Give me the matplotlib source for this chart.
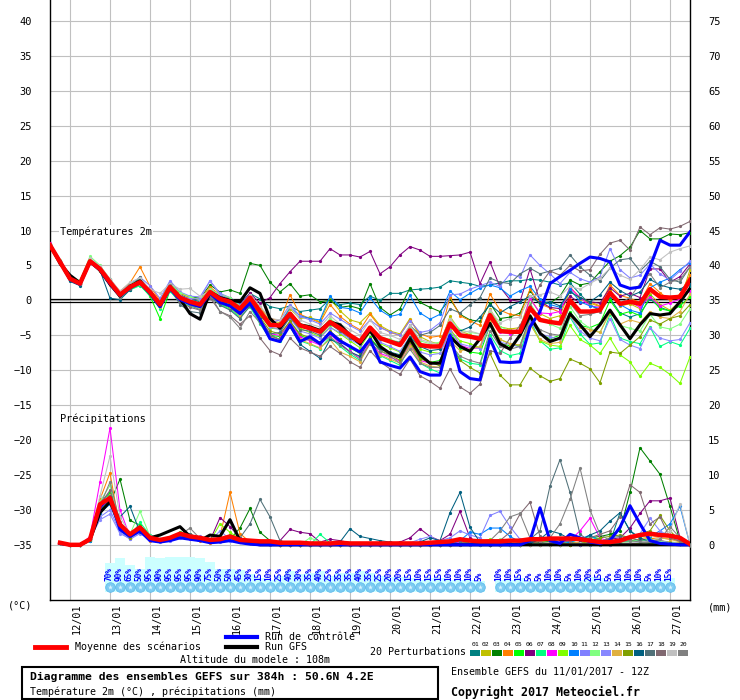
import numpy as np
import matplotlib
matplotlib.use("Agg")
from matplotlib import pyplot as plt
from matplotlib.lines import Line2D
from matplotlib.patches import Rectangle

plt.rcParams['font.family'] = ['DejaVu Sans Mono', 'DejaVu Sans']

# ---- data : 6-hourly steps from 11/01/2017 12Z (0 .. 384 h) ----
hours = np.arange(65) * 6
day_hours = [12 + 24 * k for k in range(16)]
day_labels = ['%02d/01' % d for d in range(12, 28)]

mean_t = [7.9, 5.5, 3.1, 2.4, 5.6, 4.5, 2.6, 0.8,
          1.9, 2.6, 1.2, -0.6, 1.9, 0.4, -0.2, -0.6,
          1.2, 0.2, -0.2, -1.2, 0.4, -1.6, -3.5, -3.6,
          -1.9, -3.6, -4.0, -4.5, -3.1, -4.0, -5.0, -5.9,
          -3.9, -5.4, -5.9, -6.4, -4.3, -6.4, -6.6, -6.6,
          -3.3, -5.0, -5.2, -5.5, -2.1, -4.4, -4.5, -4.5,
          -1.1, -2.8, -3.1, -3.3, 0.0, -1.6, -1.6, -1.4,
          1.1, -0.5, -0.2, -0.5, 1.6, 0.5, 0.4, 0.5,
          2.9]
gfs_t = [7.9, 5.3, 3.6, 2.5, 5.6, 4.3, 2.3, 0.6,
         2.0, 2.8, 1.0, -0.8, 2.0, 0.2, -1.9, -2.7,
         1.2, 0.4, 0.0, -0.2, 1.8, 1.0, -2.6, -4.0,
         -1.9, -3.5, -3.8, -4.3, -3.1, -3.5, -5.0, -6.2,
         -4.3, -6.6, -7.6, -8.1, -5.5, -7.8, -9.0, -9.0,
         -5.2, -6.6, -7.3, -5.5, -3.3, -6.2, -7.0, -5.0,
         -2.2, -4.7, -5.9, -5.4, -1.9, -3.5, -5.2, -3.5,
         -1.4, -3.5, -5.5, -3.5, -1.9, -2.1, -1.9, -0.2,
         1.7]
ctrl_t = [7.9, 5.6, 3.0, 2.3, 5.5, 4.4, 2.4, 0.7,
          1.8, 2.5, 1.0, -0.9, 1.7, 0.1, -0.5, -0.9,
          1.0, -0.3, -0.8, -1.9, -0.4, -2.8, -5.5, -5.9,
          -3.5, -5.9, -5.2, -6.2, -4.6, -5.8, -6.6, -7.4,
          -5.6, -8.8, -9.3, -9.7, -8.1, -10.2, -10.7, -10.7,
          -5.0, -10.2, -11.2, -11.4, -5.5, -8.8, -8.9, -8.8,
          -3.8, -1.6, 2.4, 3.4, 4.3, 5.3, 6.2, 6.0,
          5.5, 2.2, 1.7, 1.9, 4.8, 8.6, 7.9, 7.9,
          9.8]

p01_t = [8.0, 5.3, 2.9, 2.3, 5.5, 4.2, 2.8, 1.0, 2.2, 2.9, 1.5, -0.3, 2.3, 0.8, 0.2, -0.2,
         1.6, 0.6, 0.3, -0.5, 1.0, 0.2, -0.9, -1.2, -0.8, -1.6, -1.4, -1.2, 0.2, -0.6, -0.4, -0.6,
         0.6, 0.0, 1.0, 1.0, 1.5, 1.6, 1.7, 1.9, 2.8, 2.6, 2.4, 2.0, 2.2, 2.5, 2.8, 2.8,
         3.0, 2.9, 2.6, 2.2, 2.5, 0.9, -0.6, -1.5, 0.3, -1.8, -2.4, -1.9, 0.2, -1.0, -1.5, -0.8, 2.0]
p02_t = [7.8, 5.6, 3.3, 2.6, 5.9, 4.8, 2.9, 1.1, 2.1, 2.9, 1.3, -0.4, 2.2, 0.6, 0.0, -0.5,
         1.5, 0.4, 0.0, -1.0, 0.9, -1.2, -2.9, -3.2, -1.2, -2.6, -2.4, -3.1, 0.2, -1.5, -2.8, -3.2,
         -1.8, -3.6, -4.4, -4.8, -2.6, -5.2, -5.9, -6.3, -2.3, -4.4, -4.9, -5.6, -1.2, -3.8, -4.1, -3.9,
         0.3, -1.9, -2.6, -2.2, 1.4, 0.2, -0.4, -0.9, 1.5, -0.8, -0.5, -1.2, 0.9, -0.6, -1.4, -0.2, 4.4]
p03_t = [8.1, 5.7, 3.2, 2.5, 6.0, 4.6, 2.9, 1.0, 2.4, 3.0, 1.4, -0.2, 2.6, 1.0, 0.5, 0.3,
         2.2, 1.2, 1.5, 1.0, 5.3, 5.0, 2.6, 1.2, 2.4, 0.6, 0.8, -0.2, 0.0, -1.0, -0.8, -1.2,
         2.4, -1.0, -2.1, -1.2, 1.8, -0.3, -1.0, -1.6, 0.2, -2.0, -2.8, -3.0, -0.4, -2.6, -2.4, -1.8,
         1.4, -0.6, -0.4, 0.6, 2.9, 2.2, 2.5, 4.1, 5.6, 6.4, 7.6, 10.0, 8.8, 8.8, 9.5, 9.4, 9.7]
p04_t = [7.9, 5.4, 3.0, 2.4, 5.7, 4.7, 3.0, 1.3, 2.5, 4.8, 2.0, 0.0, 2.5, 1.0, 0.4, 0.1,
         1.9, 0.8, 0.3, -0.9, 0.6, -1.0, -2.6, -2.9, 0.8, -2.0, -2.6, -3.2, -0.6, -2.3, -3.4, -4.2,
         -2.0, -3.8, -4.6, -5.0, -2.8, -4.8, -5.3, -5.1, 0.5, -2.2, -2.9, -3.6, 0.9, -1.4, -2.0, -2.2,
         1.6, -0.5, -1.1, -1.7, 1.9, 0.4, -0.2, -0.8, 2.2, 0.7, 0.3, -0.3, 2.4, 1.1, 0.0, 0.9, 3.6]
p05_t = [7.8, 5.5, 3.2, 2.5, 5.8, 4.4, 2.4, 0.5, 1.6, 2.2, 0.6, -2.6, 1.4, 0.1, -0.7, -1.0,
         0.8, -0.5, -1.1, -2.2, -0.4, -2.8, -5.0, -5.2, -3.0, -5.0, -5.6, -6.0, -4.6, -5.6, -6.8, -7.6,
         -5.3, -7.0, -7.5, -8.2, -5.8, -8.2, -8.9, -8.6, -4.5, -6.8, -7.4, -7.6, -3.6, -6.2, -6.5, -6.4,
         -2.6, -4.8, -5.5, -5.0, -1.6, -3.6, -3.9, -3.3, 0.0, -2.0, -1.6, -2.2, 0.6, -1.2, -1.5, -0.8, 0.5]
p06_t = [8.0, 5.4, 3.0, 2.3, 5.5, 4.5, 2.7, 0.9, 2.0, 2.7, 1.3, -0.5, 2.0, 0.5, -0.1, -0.4,
         1.4, 0.5, 0.2, -0.6, 1.0, -0.4, 0.4, 2.4, 4.1, 5.6, 5.6, 5.6, 7.4, 6.5, 6.5, 6.2,
         7.0, 3.8, 4.8, 6.5, 7.7, 7.2, 6.3, 6.3, 6.4, 6.5, 6.9, 2.4, 5.5, 1.9, 0.1, -0.2,
         4.5, -0.2, -1.0, -1.2, 0.6, -0.4, -0.2, -0.4, 1.8, 0.6, 1.0, 0.4, 4.5, 4.5, 2.6, 3.4, 5.2]
p07_t = [7.7, 5.3, 2.9, 2.2, 5.4, 4.3, 2.3, 0.4, 1.5, 2.1, 0.7, -1.2, 1.3, -0.3, -0.8, -1.3,
         0.6, -0.6, -1.3, -2.4, -0.9, -3.4, -5.4, -5.8, -3.6, -5.8, -6.3, -6.9, -5.3, -6.6, -7.7, -8.6,
         -6.1, -7.9, -8.6, -9.3, -6.4, -9.0, -9.8, -10.4, -6.0, -8.4, -9.0, -9.2, -4.9, -7.2, -7.9, -7.6,
         -2.8, -5.8, -7.0, -6.8, -2.4, -4.8, -6.3, -6.1, -2.0, -5.4, -5.9, -6.2, -3.8, -6.6, -5.9, -6.4, -4.0]
p08_t = [8.2, 5.7, 3.3, 2.6, 5.7, 4.6, 2.5, 0.6, 1.8, 2.5, 1.0, -0.8, 1.7, 0.2, -0.4, -0.9,
         1.0, -0.2, -0.7, -1.8, -0.1, -2.6, -4.8, -5.0, -3.2, -5.2, -5.8, -6.4, -4.8, -6.2, -7.3, -8.2,
         -6.0, -7.6, -8.1, -8.7, -6.2, -8.6, -9.0, -8.8, -4.0, -6.4, -6.9, -6.8, -2.3, -4.6, -4.8, -4.4,
         0.3, -1.8, -1.9, -1.6, 1.8, 0.4, -0.8, -1.0, 1.0, -0.6, -0.2, -1.0, 0.5, -0.8, -0.4, 0.2, 1.4]
p09_t = [7.9, 5.6, 3.1, 2.5, 5.8, 4.7, 2.8, 1.0, 2.1, 2.8, 1.4, -0.5, 2.1, 0.4, -0.3, -0.7,
         1.1, 0.0, -0.4, -1.4, 0.2, -2.0, -4.0, -4.1, -2.4, -4.0, -4.6, -5.2, -3.8, -4.8, -5.8, -6.8,
         -4.6, -6.2, -6.8, -7.4, -5.2, -7.0, -7.4, -7.6, -4.2, -5.8, -6.2, -6.8, -3.6, -5.6, -6.2, -6.6,
         -3.3, -5.8, -6.4, -6.6, -3.6, -5.6, -6.4, -7.6, -5.4, -7.8, -8.8, -10.9, -9.0, -9.6, -10.6, -11.9, -8.1]
p10_t = [7.8, 5.4, 3.1, 2.4, 5.6, 4.4, 2.5, 0.6, 1.7, 2.4, 1.1, -0.7, 1.8, 0.2, -0.5, -1.0,
         0.9, -0.4, -0.9, -2.0, -0.2, -2.2, -3.6, -3.4, -1.0, -2.2, -2.6, -2.8, 0.6, -1.0, -1.2, -1.8,
         0.4, -1.4, -2.3, -2.0, 0.7, -1.8, -2.7, -2.0, 1.3, 0.1, 1.0, 1.8, 2.2, 1.8, 0.6, 1.4,
         2.0, 0.2, -0.6, -1.0, 1.6, -0.2, -0.8, -1.2, 1.0, -0.6, -1.4, -1.8, 1.8, 2.6, 3.2, 4.4, 5.4]
p11_t = [7.9, 5.5, 3.4, 2.7, 5.9, 4.8, 3.0, 1.2, 2.3, 3.3, 2.1, 0.3, 2.8, 1.2, 0.6, 0.5,
         2.8, 1.0, 0.4, -0.6, 0.8, -1.6, -3.2, -2.8, -0.6, -2.3, -2.8, -3.4, -1.8, -2.7, -3.6, -4.4,
         -2.8, -3.9, -4.5, -5.0, -2.9, -4.6, -4.3, -3.2, 0.8, 0.9, 1.6, 2.1, 2.6, 2.0, 3.8, 3.3,
         6.5, 5.0, 3.8, 2.4, 4.0, 3.1, 2.6, 3.4, 7.4, 4.4, 3.2, 3.6, 5.2, 3.8, 2.9, 4.2, 5.6]
p12_t = [8.0, 5.8, 3.5, 2.8, 6.3, 5.0, 3.0, 1.0, 2.3, 3.0, 1.5, -0.3, 2.4, 1.1, 0.5, 0.1,
         1.6, 0.8, 0.4, -0.8, 0.7, -1.4, -3.2, -3.4, -1.8, -3.4, -3.6, -4.4, -2.6, -3.8, -4.9, -5.8,
         -3.8, -5.2, -5.6, -6.0, -3.8, -5.8, -6.2, -6.0, -2.6, -4.2, -4.6, -4.8, -1.5, -3.8, -4.3, -4.4,
         -0.4, -2.6, -3.4, -4.0, -0.9, -3.0, -4.0, -4.6, -1.6, -3.6, -4.0, -4.4, -2.0, -3.8, -4.1, -3.4, -1.2]
p13_t = [7.9, 5.4, 2.9, 2.2, 5.4, 4.6, 2.6, 0.8, 2.2, 2.4, 1.2, -0.7, 1.9, 0.6, 0.2, 0.2,
         2.8, 0.8, 0.1, -1.0, 0.6, -1.8, -3.8, -4.2, -2.6, -4.4, -4.8, -5.4, -3.9, -4.6, -5.6, -6.4,
         -4.4, -6.0, -6.6, -7.3, -5.2, -7.4, -7.8, -7.6, -4.4, -6.2, -6.6, -6.9, -3.6, -6.0, -6.3, -6.7,
         -3.0, -4.8, -5.2, -5.6, -2.2, -4.4, -5.4, -5.8, -2.6, -5.6, -6.4, -6.9, -3.9, -5.4, -5.8, -5.6, -3.2]
p14_t = [7.8, 5.3, 3.0, 2.3, 5.4, 4.2, 2.2, 0.6, 1.7, 2.3, 0.9, -0.9, 1.6, 0.1, -0.6, -1.1,
         0.7, -0.4, -1.0, -2.2, -0.6, -3.0, -5.2, -5.6, -3.8, -5.6, -6.2, -6.8, -5.6, -7.4, -8.0, -8.8,
         -6.2, -7.8, -8.4, -9.0, -6.6, -8.8, -9.4, -9.6, -5.8, -7.2, -7.0, -6.6, -3.0, -5.6, -6.2, -6.4,
         -3.4, -5.6, -6.2, -6.0, -2.2, -3.8, -4.2, -4.6, -1.8, -3.4, -2.8, -3.2, -1.6, -2.4, -2.6, -1.6, 0.9]
p15_t = [7.9, 5.5, 3.1, 2.3, 5.6, 4.4, 2.5, 0.7, 1.8, 2.5, 1.1, -0.7, 1.8, 0.3, -0.3, -0.8,
         1.0, 0.0, -0.5, -1.6, 0.0, -2.4, -4.4, -4.8, -3.0, -4.8, -5.4, -6.0, -4.4, -5.6, -6.6, -7.6,
         -5.4, -7.2, -7.8, -8.6, -6.0, -8.4, -8.8, -9.4, -6.2, -8.6, -9.6, -10.4, -7.6, -10.7, -12.1, -12.1,
         -9.7, -10.8, -11.6, -11.2, -8.4, -9.0, -9.8, -11.8, -7.4, -7.6, -6.4, -5.2, -2.8, -3.4, -2.6, -2.2, -0.6]
p16_t = [7.8, 5.2, 2.7, 2.1, 5.3, 4.3, 0.3, 0.1, 1.5, 2.9, 1.4, -0.5, 1.8, 0.3, -0.4, -0.7,
         1.0, -0.2, -0.7, -1.7, -0.2, -2.6, -5.0, -5.6, -3.8, -6.3, -7.3, -8.3, -5.6, -6.2, -7.4, -8.0,
         -5.6, -7.0, -7.4, -7.8, -5.2, -6.6, -7.2, -7.0, -3.4, -4.4, -3.8, -2.4, -0.6, -1.8, -0.9, -0.2,
         0.6, -0.4, -0.2, -0.8, 1.2, 0.4, -0.2, 0.8, 2.6, 1.4, 0.6, 1.2, 3.0, 2.2, 1.8, 1.6, 2.4]
p17_t = [7.9, 5.6, 3.2, 2.6, 5.7, 4.3, 2.4, 0.4, 1.6, 3.4, 1.0, -0.8, 1.8, -0.6, -1.6, -1.8,
         0.6, -0.7, -1.4, -2.6, -0.8, -2.8, -4.8, -4.6, -2.4, -4.2, -4.4, -5.0, -3.4, -4.4, -5.4, -6.2,
         -4.2, -5.6, -5.8, -6.0, -3.6, -5.0, -4.6, -3.6, -1.2, -1.8, -0.6, 0.4, 3.2, 2.6, 2.4, 3.8,
         4.6, 3.8, 4.2, 4.6, 6.5, 4.8, 3.6, 2.8, 4.6, 5.8, 6.0, 4.2, 5.6, 4.8, 3.0, 2.6, 4.8]
p18_t = [8.0, 5.5, 3.0, 2.4, 5.5, 4.5, 2.6, 0.6, 2.0, 2.8, 1.3, -0.4, 1.5, -0.2, -1.0, -1.4,
         0.4, -1.6, -2.2, -3.4, -2.2, -5.4, -7.2, -7.8, -5.4, -6.8, -7.4, -8.0, -6.6, -7.6, -8.8, -9.6,
         -7.2, -8.8, -9.8, -10.6, -8.4, -10.8, -11.6, -12.6, -9.8, -12.4, -13.3, -12.0, -7.2, -7.6, -5.4, -3.6,
         -0.8, 2.2, 4.2, 3.6, 5.0, 4.2, 4.4, 6.6, 8.2, 8.6, 7.2, 10.5, 9.4, 10.4, 10.2, 10.6, 11.3]
p19_t = [7.9, 5.6, 3.3, 2.6, 6.0, 4.9, 3.1, 1.3, 2.6, 3.2, 1.6, 1.0, 2.4, 1.6, 1.7, 0.6,
         1.3, 0.1, -0.3, -1.2, 0.8, -0.8, -2.6, -2.8, -0.9, -2.8, -3.4, -3.8, -2.2, -3.4, -4.2, -5.0,
         -2.8, -4.6, -5.0, -5.6, -3.6, -5.6, -6.0, -6.4, -2.6, -4.6, -4.4, -4.8, -1.4, -3.2, -2.6, -2.4,
         0.6, 0.8, 1.2, 0.6, 2.0, 1.6, 2.4, 3.2, 4.6, 3.6, 3.0, 4.4, 6.2, 5.8, 6.9, 7.4, 7.8]
p20_t = [7.9, 5.6, 3.0, 2.4, 5.6, 4.4, 2.8, 0.5, 2.2, 2.6, 1.2, -0.8, 2.2, 0.4, -0.6, -1.4,
         0.8, -1.6, -2.4, -4.0, -1.6, -3.2, -5.0, -5.6, -3.6, -5.8, -5.6, -6.2, -5.2, -6.4, -7.4, -8.4,
         -6.2, -7.2, -8.0, -9.0, -7.0, -9.0, -9.6, -9.6, -6.2, -8.0, -8.6, -9.0, -4.4, -6.6, -7.0, -6.6,
         -2.4, -4.2, -4.8, -5.0, -0.4, -2.2, -2.0, -1.6, 1.0, -0.4, 0.4, 2.4, 3.8, 1.8, 2.6, 3.0, 4.8]

# precipitation (mm / 6 h), steps 1 .. 64
mean_p = [0.3, 0.0, 0.0, 0.8, 5.8, 6.7, 2.9, 1.5, 2.5, 1.0, 0.7, 1.0, 1.6, 1.2, 1.0, 0.7,
          0.8, 1.2, 0.7, 0.6, 0.5, 0.5, 0.3, 0.3, 0.3, 0.2, 0.2, 0.2, 0.3, 0.2, 0.2, 0.2,
          0.2, 0.2, 0.2, 0.2, 0.2, 0.3, 0.4, 0.5, 0.8, 0.6, 0.5, 0.5, 0.5, 0.6, 0.6, 0.8,
          0.8, 0.9, 0.9, 0.9, 0.8, 0.6, 0.4, 0.4, 0.6, 1.1, 1.4, 1.6, 1.4, 1.3, 1.0, 0.1]
gfs_p = [0.2, 0, 0, 0.7, 4.6, 6.2, 2.8, 1.4, 2.2, 1.0, 1.4, 2.0, 2.6, 1.2, 0.6, 1.4,
         1.2, 3.6, 0.6, 0.2, 0, 0, 0, 0, 0, 0, 0, 0, 0, 0, 0, 0,
         0, 0, 0, 0, 0, 0, 0, 0, 0, 0, 0, 0, 0, 0, 0, 0,
         0, 0, 0, 0, 0, 0, 0, 0, 0, 0, 0, 0, 0, 0, 0, 0]
ctrl_p = [0.2, 0, 0, 0.8, 5.4, 6.8, 2.2, 1.2, 2.0, 0.6, 0.4, 0.6, 1.0, 0.8, 0.6, 0.3,
          0.4, 0.6, 0.3, 0.1, 0, 0, 0, 0, 0, 0, 0, 0, 0, 0, 0, 0,
          0, 0, 0, 0, 0, 0, 0, 0, 0, 0, 0, 0, 0, 0, 0, 0.6,
          5.3, 0.6, 0.2, 1.5, 1.0, 0.4, 0.2, 0.6, 2.5, 5.6, 3.0, 0.6, 0.2, 0.1, 0, 0]

p01_p = [0.2, 0, 0, 1.0, 6.0, 7.5, 2.5, 1.2, 2.0, 0.8, 0.6, 0.9, 1.4, 1.0, 0.8, 0.5,
         0.6, 1.0, 0.5, 0.4, 0.3, 0.2, 0.2, 0.1, 0.1, 0, 0, 0, 0.2, 0.1, 0, 0,
         0, 0, 0, 0, 0, 0.1, 0.3, 0.4, 0.6, 0.3, 0.2, 0.1, 0, 0, 0.3, 0.5,
         0.4, 0.2, 0.6, 0.4, 0.2, 0.3, 0.1, 0.3, 4.6, 2.0, 0.8, 0.5, 0.3, 0.2, 0.4, 0]
p02_p = [0.3, 0, 0, 0.8, 5.0, 6.2, 3.0, 1.5, 2.4, 1.0, 0.5, 0.8, 1.2, 1.5, 0.9, 0.4,
         0.5, 0.8, 0.4, 0.3, 0.2, 0.1, 0, 0, 0, 0, 0, 0, 0, 0, 0, 0,
         0, 0, 0, 0, 0, 0, 0.2, 0.3, 0.2, 0.1, 0, 0, 0, 0, 0.1, 0.2,
         0.5, 0.3, 0.2, 0.1, 0, 0.2, 0.4, 0.3, 0.5, 0.8, 1.2, 1.0, 0.6, 0.4, 0.3, 0]
p03_p = [0.2, 0, 0, 0.6, 4.5, 6.0, 9.4, 3.5, 2.8, 1.2, 0.8, 1.0, 1.6, 1.2, 0.8, 0.6,
         1.0, 0.8, 2.4, 5.2, 1.8, 0.6, 0.2, 0.1, 0, 0, 0, 0, 0, 0, 0, 0,
         0, 0, 0, 0, 0, 0, 0.1, 0.2, 0.3, 0.1, 0, 0, 0, 0.2, 0, 0.1,
         0.3, 0.5, 0.8, 0.4, 0.3, 1.0, 1.2, 1.5, 2.0, 7.5, 13.9, 12.0, 10.1, 5.5, 0.5, 0]
p04_p = [0.2, 0, 0, 0.8, 6.5, 10.3, 2.2, 1.0, 2.0, 0.6, 0.5, 1.0, 1.5, 1.0, 0.6, 0.3,
         1.2, 7.5, 1.6, 0.4, 0.2, 0.1, 0, 0, 0, 0, 0, 0, 0, 0, 0, 0,
         0, 0, 0, 0, 0, 0, 0, 0.2, 0.4, 0.3, 0.2, 0, 0, 0, 0, 0.1,
         0.2, 0.1, 0, 0, 0, 0.3, 0.2, 0.4, 0.5, 0.6, 0.8, 0.9, 1.0, 0.8, 0.6, 0]
p05_p = [0.2, 0, 0, 0.8, 5.2, 7.4, 2.6, 1.4, 2.8, 1.0, 0.6, 0.8, 1.8, 1.2, 1.0, 0.6,
         0.8, 1.4, 0.8, 0.6, 0.4, 0.2, 0.1, 0, 0, 0, 0, 0, 0, 0, 0, 0,
         0, 0, 0, 0, 0, 0, 0.1, 0.2, 0.3, 0.2, 0.1, 0, 0, 0, 0, 0.1,
         0.1, 0.2, 0.1, 0, 0, 0, 0, 0.2, 0.4, 0.6, 0.4, 0.2, 0.3, 0.2, 0.1, 0]
p06_p = [0.2, 0, 0, 0.7, 5.5, 6.8, 2.4, 1.0, 2.2, 0.8, 0.7, 1.0, 1.4, 1.0, 0.8, 0.6,
         3.9, 2.6, 1.0, 0.4, 0.3, 0.2, 0.6, 2.2, 1.8, 1.6, 0.4, 0.8, 0.6, 0.3, 0.2, 0,
         0, 0.2, 0.4, 1.0, 2.3, 1.2, 0.6, 1.5, 4.8, 1.0, 0.2, 0, 0, 0, 0.1, 0.3,
         0.2, 0.1, 0, 0, 0, 0.2, 0.4, 0.8, 1.0, 2.4, 4.5, 6.3, 6.3, 6.7, 1.0, 0]
p07_p = [0.2, 0, 0, 0.9, 5.8, 7.0, 2.8, 1.2, 3.2, 1.4, 0.8, 1.0, 1.6, 1.0, 0.8, 0.5,
         0.8, 1.2, 0.6, 0.4, 0.3, 0.2, 0, 0, 0, 0, 1.5, 0.3, 0, 0, 0, 0,
         0, 0, 0, 0, 0, 0, 0, 0.1, 0.2, 0.1, 0, 0, 0, 0, 0, 0.1,
         0.2, 0.2, 0.3, 0.4, 0.8, 1.2, 0.6, 0.3, 0.4, 0.5, 0.6, 0.8, 0.4, 0.2, 0.1, 0]
p08_p = [0.3, 0, 0, 1.2, 9.0, 16.7, 5.0, 1.2, 2.0, 0.8, 0.6, 0.8, 1.2, 0.9, 0.7, 0.4,
         0.6, 1.0, 0.6, 0.3, 0.2, 0.1, 0, 0, 0, 0, 0, 0, 0, 0, 0, 0,
         0, 0, 0, 0, 0, 0, 0, 0.2, 0.4, 0.3, 0.1, 0, 0, 0, 0, 0,
         0.2, 0.3, 0.4, 0.6, 2.0, 3.8, 1.0, 0.4, 0.3, 0.2, 0.2, 0.4, 0.6, 0.3, 0.2, 0]
p09_p = [0.2, 0, 0, 0.7, 5.0, 6.2, 2.2, 1.6, 2.6, 1.2, 0.5, 0.8, 1.4, 1.2, 0.9, 0.5,
         3.0, 1.8, 0.8, 0.3, 0.2, 0.1, 0, 0, 0, 0, 0, 0, 0, 0, 0, 0,
         0, 0, 0, 0, 0, 0, 0, 0, 0.1, 0.2, 0.4, 0.8, 0.5, 0.2, 0, 0,
         0, 0, 0, 0.1, 0.2, 0.3, 0.1, 0, 0.2, 0.3, 0.2, 0.4, 0.6, 0.3, 0.1, 0]
p10_p = [0.2, 0, 0, 0.6, 4.6, 5.8, 2.0, 1.0, 2.2, 0.9, 0.5, 0.7, 1.1, 1.0, 0.7, 0.4,
         0.5, 0.9, 0.5, 0.3, 0.2, 0.1, 0, 0, 0, 0, 0, 0, 0, 0, 0, 0,
         0, 0, 0, 0, 0, 0, 0, 0, 0.6, 1.8, 1.5, 2.4, 2.4, 1.2, 0.4, 0.2,
         0.1, 0, 0, 0.4, 0.8, 1.4, 0.6, 0.3, 0.6, 1.0, 1.6, 1.2, 2.0, 3.0, 5.5, 0]
p11_p = [0.2, 0, 0, 0.8, 4.0, 5.0, 1.8, 0.8, 1.6, 0.8, 0.4, 0.6, 1.0, 0.8, 1.2, 0.6,
         0.4, 0.6, 0.4, 0.2, 0.1, 0, 0, 0, 0, 0, 0, 0, 0, 0, 0, 0,
         0, 0, 0, 0, 0, 0.2, 0.6, 1.0, 2.0, 1.4, 1.0, 4.2, 4.8, 2.6, 0.8, 0.2,
         0, 0, 0, 0.2, 0.3, 0.2, 0.1, 0, 0.2, 0.3, 0.4, 0.5, 0.6, 0.3, 0.2, 0]
p12_p = [0.2, 0, 0, 1.0, 6.2, 8.5, 3.0, 1.5, 4.8, 1.2, 0.8, 1.1, 1.5, 1.1, 0.8, 0.6,
         0.7, 1.0, 0.6, 0.4, 0.3, 0.2, 0, 0, 0, 1.0, 0.4, 0, 0, 0, 0, 0,
         0, 0, 0, 0, 0, 0, 0, 0, 0, 0, 0.2, 0.5, 0.8, 0.4, 0.2, 0.1,
         0.2, 0.3, 0.2, 0.1, 0.2, 0.3, 0.2, 0.1, 0.3, 0.4, 0.6, 0.5, 0.4, 0.3, 0.2, 0]
p13_p = [0.2, 0, 0, 0.9, 3.6, 4.4, 1.6, 0.9, 1.8, 0.7, 0.5, 0.8, 1.3, 1.4, 0.8, 0.5,
         2.0, 0.8, 0.5, 0.3, 0.2, 0.1, 0, 0, 0, 0, 0, 0, 0, 0, 0, 0,
         0, 0, 0, 0.3, 0.8, 1.2, 0.5, 0.2, 0.1, 0, 0, 0, 0, 0, 0, 0,
         0, 0.1, 0.2, 0.1, 0, 0, 0, 0.2, 0.4, 0.8, 1.6, 3.8, 2.0, 1.2, 0.6, 0]
p14_p = [0.2, 0, 0, 0.8, 5.4, 7.2, 2.4, 1.1, 2.2, 0.9, 0.6, 0.9, 1.5, 1.2, 0.9, 0.5,
         0.6, 1.2, 0.5, 0.3, 0.2, 0.1, 0, 0, 0, 0, 0, 0, 0, 0, 0, 0,
         0, 0, 0, 0, 0, 0, 0, 0, 0.1, 0.2, 0.1, 0, 0, 0, 0, 0,
         0, 0, 0.1, 0.2, 0.4, 0.6, 0.3, 0.2, 0.6, 0.8, 1.2, 1.4, 1.0, 0.8, 0.4, 0]
p15_p = [0.2, 0, 0, 0.7, 4.8, 6.4, 2.2, 1.0, 2.0, 0.8, 0.6, 0.9, 1.4, 1.1, 0.8, 0.5,
         0.6, 0.9, 0.5, 0.3, 0.2, 0.1, 0, 0, 0, 0, 0, 0, 0, 0, 0, 0,
         0, 0, 0, 0, 0, 0, 0, 0, 0.2, 0.4, 0.3, 0.1, 0, 0, 0, 0,
         0, 0, 0, 0, 0.2, 0.5, 1.0, 1.2, 1.4, 1.0, 1.6, 2.0, 4.2, 2.0, 0.6, 0]
p16_p = [0.2, 0, 0, 0.8, 5.0, 6.0, 4.0, 5.5, 1.8, 0.8, 0.5, 0.8, 1.2, 1.0, 0.8, 0.5,
         0.6, 0.8, 0.5, 0.3, 0.2, 0.1, 0, 0, 0, 0, 0, 0, 0.4, 2.3, 1.2, 0.9,
         0.6, 0.4, 0.2, 0.2, 0.4, 1.0, 0.6, 4.6, 7.5, 2.5, 0.4, 0, 0, 0.2, 0, 0.2,
         0.8, 2.0, 1.6, 0.8, 0.6, 1.4, 2.0, 3.4, 4.6, 2.0, 1.0, 0.4, 0.3, 0.2, 0.1, 0]
p17_p = [0.2, 0, 0, 0.8, 5.2, 7.0, 2.6, 1.2, 2.2, 1.0, 0.6, 0.8, 1.4, 1.6, 0.8, 0.5,
         0.6, 0.8, 1.0, 3.0, 6.5, 4.0, 0.6, 0.2, 0, 0, 0, 0, 0, 0, 0, 0,
         0, 0, 0, 0, 0, 0, 0, 0, 0.2, 0.3, 0.1, 0, 0, 0, 0.4, 0.8,
         2.0, 8.4, 12.2, 7.5, 1.5, 0.5, 0.4, 1.0, 1.2, 1.0, 0.6, 0.4, 0.3, 0.2, 0.1, 0]
p18_p = [0.2, 0, 0, 0.9, 5.8, 7.8, 3.0, 1.4, 2.4, 1.2, 0.6, 1.0, 1.6, 1.2, 0.9, 0.6,
         0.8, 1.0, 0.6, 0.4, 0.3, 0.2, 0, 0, 0, 0, 0, 0, 0, 0, 0, 0,
         0, 0, 0, 0, 0, 0, 0, 0, 0, 0.2, 0.3, 0.4, 0.6, 1.8, 4.4, 6.1,
         1.2, 0.4, 0.2, 0.6, 0.8, 1.0, 1.5, 2.0, 4.0, 8.6, 7.5, 3.0, 4.0, 1.0, 0.5, 0]
p19_p = [0.2, 0, 0, 1.0, 7.0, 12.7, 4.0, 1.6, 2.4, 1.2, 0.6, 0.9, 1.6, 1.2, 0.9, 0.6,
         0.8, 1.0, 0.6, 0.3, 0.2, 0.1, 0, 0, 0, 0, 0, 0, 0, 0, 0, 0,
         0, 0, 0, 0, 0, 0, 0, 0, 0.1, 0.2, 0.2, 0.1, 0, 0, 0, 0,
         0, 0, 0, 0.1, 0.2, 0.2, 0.1, 0.1, 0.2, 0.3, 0.4, 0.6, 1.0, 2.0, 5.9, 0]
p20_p = [0.2, 0, 0, 0.8, 5.6, 9.0, 3.2, 1.4, 2.2, 1.0, 0.6, 0.9, 1.4, 2.4, 0.9, 0.5,
         0.6, 1.0, 0.6, 0.4, 0.2, 0.1, 0, 0, 0, 0, 0, 0, 0, 0, 0, 0,
         0, 0, 0, 0, 0, 0, 0, 0, 0, 0.1, 0.2, 0.6, 2.0, 4.0, 4.5, 1.0,
         0.4, 1.0, 3.0, 6.5, 11.0, 5.0, 1.5, 0.6, 0.4, 0.6, 0.4, 0.3, 0.8, 2.6, 1.0, 0]

pert_colors = ['#008080', '#c0c000', '#008000', '#ff8000', '#00ff00',
               '#800080', '#00ff80', '#ff00ff', '#80ff00', '#0080ff',
               '#8080ff', '#80ff80', '#8888ff', '#e0b040', '#80a000',
               '#006080', '#507078', '#806870', '#c0c0c0', '#808080']
pert_t = [p01_t, p02_t, p03_t, p04_t, p05_t, p06_t, p07_t, p08_t, p09_t, p10_t,
          p11_t, p12_t, p13_t, p14_t, p15_t, p16_t, p17_t, p18_t, p19_t, p20_t]
pert_p = [p01_p, p02_p, p03_p, p04_p, p05_p, p06_p, p07_p, p08_p, p09_p, p10_p,
          p11_p, p12_p, p13_p, p14_p, p15_p, p16_p, p17_p, p18_p, p19_p, p20_p]

# snow probability (%) per step
snow_steps = list(range(6, 44)) + list(range(45, 63))
snow_pct = [70, 90, 65, 50, 95, 90, 95, 95, 95, 90, 75, 50, 50, 45, 30, 15, 10, 25, 40,
            30, 35, 40, 25, 35, 35, 40, 35, 25, 20, 20, 15, 10, 15, 15, 10, 10, 10, 5,
            10, 10, 15, 5, 5, 10, 10, 5, 10, 20, 15, 5, 10, 10, 10, 5, 10, 15]

W, H = 740, 700


def fx(px):
    return px / W


def fy(py):
    return 1 - py / H


PX = 1 / 6.99  # data units (deg) per pixel
P_OFF = 35     # precipitation 0 mm sits at -35 on the temperature scale

fig = plt.figure(figsize=(7.4, 7.0), dpi=100)
fig.patch.set_facecolor('white')
ax = fig.add_axes([fx(50), fy(600), 640 / W, 600 / H])
ax.set_xlim(0, 384)
ax.set_ylim(-42.9, 43.0)

# grid
ax.set_axisbelow(True)
ax.set_yticks(range(-35, 45, 5))
ax.set_xticks(day_hours)
ax.set_xticklabels([])
ax.grid(True, color='#c0c0c0', lw=0.8)
ax.tick_params(axis='both', length=0)
ax.tick_params(axis='y', pad=13, labelsize=7.5)
for s in ['left', 'right', 'bottom']:
    ax.spines[s].set_color('black')
    ax.spines[s].set_linewidth(1.0)
ax.spines['top'].set_visible(False)

sec = ax.secondary_yaxis('right', functions=(lambda y: y + P_OFF, lambda y: y - P_OFF))
sec.set_yticks(range(0, 80, 5))
sec.tick_params(length=0, pad=13, labelsize=7.5)
sec.spines['right'].set_visible(False)

# 0 degree double line
ax.axhline(0.22, color='black', lw=0.9, zorder=2)
ax.axhline(-0.22, color='black', lw=0.9, zorder=2)

# temperature
for col, t in zip(pert_colors, pert_t):
    ax.plot(hours, t, color=col, lw=0.75, marker='.', ms=2.6, zorder=3)
ax.plot(hours, gfs_t, color='black', lw=2.2, zorder=4)
ax.plot(hours, ctrl_t, color='#0000ff', lw=2.2, zorder=5)
ax.plot(hours, mean_t, color='#ff0000', lw=3.2, zorder=6)

# precipitation
hp = hours[1:]
for col, p in zip(pert_colors, pert_p):
    ax.plot(hp, np.array(p) - P_OFF, color=col, lw=0.75, marker='.', ms=2.6, zorder=3)
ax.plot(hp, np.array(gfs_p) - P_OFF, color='black', lw=2.2, zorder=4)
ax.plot(hp, np.array(ctrl_p) - P_OFF, color='#0000ff', lw=2.2, zorder=5)
ax.plot(hp, np.array(mean_p) - P_OFF, color='#ff0000', lw=3.2, zorder=6)

# snow probability strip
snow_h = np.array(snow_steps) * 6
bar_bottom = -35 - 47.5 * PX
bar_top = np.array([-35 - (37.5 - 0.27 * p) * PX for p in snow_pct])
ax.bar(snow_h, bar_top - bar_bottom, bottom=bar_bottom, width=6,
       color='#ccffff', lw=0, zorder=2)
flake_y = -35 - 42.5 * PX
ax.scatter(snow_h, [flake_y] * len(snow_h), s=48, c='#7ccbf2', edgecolors='#5ab6ea',
           linewidths=0.5, zorder=3)
ax.scatter(snow_h, [flake_y] * len(snow_h), s=14, marker='*', c='#d8f4ff',
           linewidths=0, zorder=4)
for h, p in zip(snow_h, snow_pct):
    ax.text(h - 0.6, -35 - 36.5 * PX, '%d%%' % p, rotation=90, ha='center', va='bottom',
            color='#0000ff', fontsize=5.6, fontweight='bold', zorder=5)

# inside labels
ax.text(6, 9.8, 'Températures 2m', fontsize=7.4, va='center', ha='left', zorder=7,
        bbox=dict(facecolor='white', edgecolor='none', pad=1))
ax.text(6, -17.0, 'Précipitations', fontsize=7.4, va='center', ha='left', zorder=7)

# date labels
for h, lab in zip(day_hours, day_labels):
    ax.text(h + 4.2, -43.4, lab, rotation=90, ha='center', va='top', fontsize=7.3,
            clip_on=False)

fig.text(fx(20), fy(605), '(°C)', ha='center', va='center', fontsize=7.3)
fig.text(fx(720), fy(607), '(mm)', ha='center', va='center', fontsize=7.3)

# legend
fig.add_artist(Line2D([fx(35), fx(66)], [fy(647), fy(647)], color='#ff0000', lw=3.5))
fig.text(fx(75), fy(647), 'Moyenne des scénarios', va='center', fontsize=7.2)
fig.add_artist(Line2D([fx(226), fx(257)], [fy(637), fy(637)], color='#0000ff', lw=3.0))
fig.text(fx(265), fy(637), 'Run de contrôle', va='center', fontsize=7.2)
fig.add_artist(Line2D([fx(226), fx(257)], [fy(647), fy(647)], color='black', lw=3.0))
fig.text(fx(265), fy(647), 'Run GFS', va='center', fontsize=7.2)
fig.text(fx(180), fy(660), 'Altitude du modele : 108m', va='center', fontsize=7.2)
fig.text(fx(370), fy(652), '20 Perturbations', va='center', fontsize=7.2)
for k, col in enumerate(pert_colors):
    x0 = 470 + 10.95 * k
    fig.add_artist(Rectangle((fx(x0), fy(656)), 10 / W, 6 / H, transform=fig.transFigure,
                             facecolor=col, edgecolor='none'))
    fig.text(fx(x0 + 5), fy(644), '%02d' % (k + 1), ha='center', va='center', fontsize=4.6)

fig.add_artist(Rectangle((fx(22), fy(699)), 416 / W, 32 / H, transform=fig.transFigure,
                         fill=False, edgecolor='black', lw=1.5))
fig.text(fx(30), fy(677), 'Diagramme des ensembles GEFS sur 384h : 50.6N 4.2E',
         va='center', fontsize=8.2, fontweight='bold')
fig.text(fx(30), fy(692), 'Température 2m (°C) , précipitations (mm)',
         va='center', fontsize=7.2)
fig.text(fx(451), fy(672), 'Ensemble GEFS du 11/01/2017 - 12Z', va='center', fontsize=7.2)
fig.text(fx(451), fy(692), 'Copyright 2017 Meteociel.fr', va='center', fontsize=8.4,
         fontweight='bold')

fig.savefig('out.png', dpi=100)
plt.close(fig)
